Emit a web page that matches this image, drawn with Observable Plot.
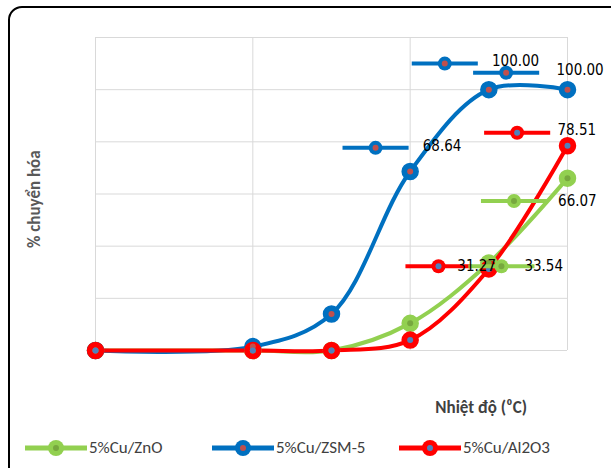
<!DOCTYPE html>
<html><head><meta charset="utf-8">
<script src="https://cdn.jsdelivr.net/npm/d3@7"></script>
<script src="https://cdn.jsdelivr.net/npm/@observablehq/plot@0.6"></script>
<style>
body{margin:0;background:#fff;font-family:Calibri,"Liberation Sans",Arial,sans-serif}
#frame{position:absolute;left:8px;top:6px;width:640px;height:480px;border:2px solid #000;border-radius:14px}
#wrap{position:absolute;left:0;top:0}
#legend{position:absolute;left:25px;top:437px;display:flex;font-size:17px;color:#404040}
.item{display:flex;align-items:center;width:187px}
</style></head><body>
<div id="frame"></div>
<div id="wrap"></div>
<div id="legend"></div>
<script>
const temps=[150,250,300,350,400,450];
const seriesNames=["5%Cu/ZnO","5%Cu/ZSM-5","5%Cu/Al2O3"];
const znO=[0,0,0,10.4,33.54,66.07];
const zsm=[0,1.5,14,68.64,100,100];
const al=[0,0,0,4,31.27,78.51];
const colors=["#92d050","#0070c0","#ff0000"];
const centers=["#77a83e","#c0504d","#4f81bd"];
// detached data labels with key-like stubs (data units)
const labelVals=["100.00","100.00","68.64","78.51","66.07","31.27","33.54"];
const labelSeries=[1,1,1,2,0,2,0];
const labelX=[372,411,328,418,416,368,408];
const labelY=[110,106.5,77.7,83.5,57.3,32.3,32.3];
const textX=[402,443,358,443.6,444,380,422.6];
const textY=[111,107.5,78.5,84.5,57.3,32.3,32.3];

const rows=[];
[znO,zsm,al].forEach((arr,s)=>temps.forEach((t,i)=>rows.push({s,t,v:arr[i]})));
const stubs=labelVals.map((l,i)=>({s:labelSeries[i],x:labelX[i],y:labelY[i],tx:textX[i],ty:textY[i],l}));

const plot=Plot.plot({
  width:611,height:468,marginLeft:95,marginRight:44,marginTop:37,marginBottom:118,
  x:{domain:[150,450],axis:null},
  y:{domain:[0,120],axis:null},
  style:{fontFamily:"Calibri,'Liberation Sans',Arial,sans-serif",overflow:"visible"},
  marks:[
    Plot.gridX([150,250,350,450],{stroke:"#d9d9d9",strokeOpacity:1}),
    Plot.gridY(d3.range(0,121,20),{stroke:"#d9d9d9",strokeOpacity:1}),
    Plot.line(rows,{x:"t",y:"v",z:"s",stroke:d=>colors[d.s],strokeWidth:4,curve:"catmull-rom"}),
    Plot.dot(rows,{x:"t",y:"v",r:8,fill:d=>colors[d.s],stroke:d=>colors[d.s]}),
    Plot.dot(rows,{x:"t",y:"v",r:3,fill:d=>centers[d.s]}),
    Plot.link(stubs,{x1:d=>d.x-21,x2:d=>d.x+21,y1:"y",y2:"y",stroke:d=>colors[d.s],strokeWidth:4}),
    Plot.dot(stubs,{x:"x",y:"y",r:7,fill:d=>colors[d.s]}),
    Plot.dot(stubs,{x:"x",y:"y",r:3,fill:d=>centers[d.s]}),
    Plot.text(stubs,{x:"tx",y:"ty",text:"l",textAnchor:"start",fontSize:15,fill:"#000",fontFamily:"'DejaVu Sans Condensed','Liberation Sans',sans-serif"}),
    Plot.text(["% chuyển hóa"],{x:150,y:58,dx:-61,rotate:-90,fontSize:17,fontWeight:"bold",fill:"#595959"}),
    Plot.text(["Nhiệt độ (⁰C)"],{x:366,y:0,dy:57,textAnchor:"start",fontSize:17,fontWeight:"bold",fill:"#404040"})
  ]
});
document.getElementById("wrap").appendChild(plot);
const lg=document.getElementById("legend");
seriesNames.forEach((n,i)=>{
  const d=document.createElement("div");d.className="item";
  d.innerHTML=`<svg width="62" height="20"><line x1="0" x2="62" y1="10" y2="10" stroke="${colors[i]}" stroke-width="5"/><circle cx="31" cy="10" r="8" fill="${colors[i]}"/><circle cx="31" cy="10" r="3" fill="${centers[i]}"/></svg><span style="margin-left:2px">${n}</span>`;
  lg.appendChild(d);
});
</script></body></html>
